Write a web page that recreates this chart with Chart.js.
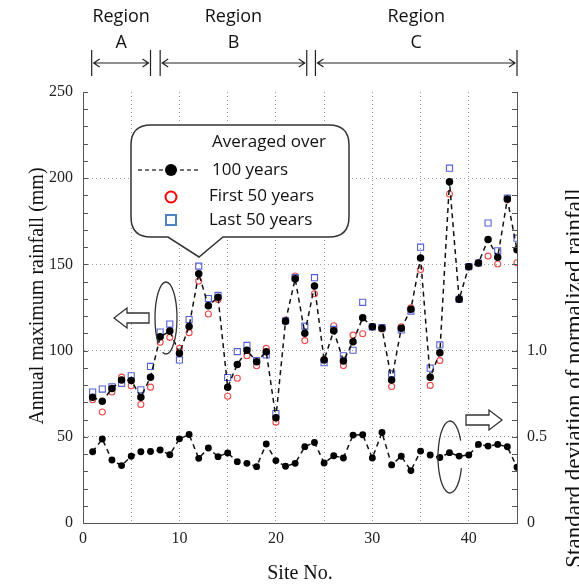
<!DOCTYPE html>
<html>
<head>
<meta charset="utf-8">
<script src="https://cdn.jsdelivr.net/npm/chart.js@4/dist/chart.umd.min.js"></script>
<style>
  html, body { margin: 0; padding: 0; background: #fff; }
  #chart { display: block; }
</style>
</head>
<body>
<canvas id="chart" width="579" height="587"></canvas>
<script>
// site numbers
const sites = [1, 2, 3, 4, 5, 6, 7, 8, 9, 10, 11, 12, 13, 14, 15, 16, 17, 18, 19, 20, 21, 22, 23,
  24, 25, 26, 27, 28, 29, 30, 31, 32, 33, 34, 35, 36, 37, 38, 39, 40, 41, 42, 43, 44, 45];

// annual max rainfall (mm)
const avg100 = [73, 70.6, 78, 83, 82.7, 73, 84.6, 108, 111.3, 98.5,
  114, 144.6, 126, 131, 78.8, 92, 100.2, 93.5, 99.4, 61,
  117, 141.7, 110, 137.5, 94.6, 111.5, 94, 105.2, 119, 113.8,
  112.9, 83, 112.9, 124, 153.7, 84.6, 98.8, 198, 129.8, 148.7,
  150.8, 164.4, 154.2, 187.9, 158.5];
const first50 = [71.5, 64.4, 76, 84.6, 79.6, 68.7, 78.8, 104.8, 107.7, 101.3,
  110.4, 140.4, 121.2, 129.6, 73.5, 84, 97, 91.2, 101.3, 58.5,
  117.7, 143.3, 105.8, 133, 95, 114.4, 91.3, 109, 109.8, 113.8,
  112.5, 79.2, 113.8, 124.8, 147, 79.8, 94.2, 190.8, 130, 148.7,
  150.8, 154.8, 150.2, 187.5, 151];
const last50 = [76, 77.7, 79, 81, 85.4, 77.3, 90.8, 110.8, 115.4, 94.6,
  118, 149, 130.2, 132, 84.4, 99.4, 103, 94.2, 97.5, 63.5,
  117.3, 142.3, 114.2, 142.3, 93, 112.3, 97, 100.2, 128, 113.8,
  113.3, 86.5, 112, 122.9, 160, 89.8, 103.3, 205.8, 129.8, 148.7,
  150.8, 174, 157.9, 188.5, 165.2];

// standard deviation of normalized rainfall (right axis)
const stdDev = [0.413, 0.487, 0.365, 0.333, 0.387, 0.413, 0.415, 0.423, 0.396, 0.488,
  0.513, 0.375, 0.435, 0.385, 0.406, 0.356, 0.346, 0.327, 0.458, 0.362,
  0.329, 0.346, 0.443, 0.467, 0.348, 0.39, 0.377, 0.51, 0.512, 0.377,
  0.525, 0.337, 0.387, 0.304, 0.417, 0.394, 0.38, 0.408, 0.388, 0.394,
  0.456, 0.446, 0.456, 0.442, 0.323];

// regions: [label, from site, to site]
const regions = [['A', 0.9, 7], ['B', 8, 23.2], ['C', 24.1, 45]];

const pts = arr => arr.map((v, i) => ({ x: sites[i], y: v }));

const serif = "'Liberation Serif', 'Times New Roman', serif";
const sans = "'Open Sans', 'Noto Sans', sans-serif";

// inward tick marks + drawings that sit on the figure
const decor = {
  id: 'decor',
  beforeDatasetsDraw(chart) {
    const c = chart.ctx;
    // callout box with pointer
    const L = 131, R = 349, T = 125, B = 237, r = 20;
    c.save();
    c.beginPath();
    c.moveTo(L + r, T);
    c.lineTo(R - r, T);
    c.quadraticCurveTo(R, T, R, T + r);
    c.lineTo(R, B - r);
    c.quadraticCurveTo(R, B, R - r, B);
    c.lineTo(223, B);
    c.lineTo(199, 257);
    c.lineTo(168, B);
    c.lineTo(L + r, B);
    c.quadraticCurveTo(L, B, L, B - r);
    c.lineTo(L, T + r);
    c.quadraticCurveTo(L, T, L + r, T);
    c.closePath();
    c.fillStyle = '#fff';
    c.fill();
    c.lineWidth = 1.5;
    c.strokeStyle = '#333';
    c.stroke();

    // legend contents
    c.setLineDash([4, 3]);
    c.lineWidth = 1.5;
    c.strokeStyle = '#444';
    c.beginPath(); c.moveTo(138, 170); c.lineTo(200, 170); c.stroke();
    c.setLineDash([]);
    c.fillStyle = '#000';
    c.beginPath(); c.arc(171, 170, 6, 0, Math.PI * 2); c.fill();
    c.strokeStyle = '#f00';
    c.lineWidth = 2;
    c.beginPath(); c.arc(171, 197, 5.5, 0, Math.PI * 2); c.stroke();
    c.strokeStyle = '#4f81bd';
    c.strokeRect(166, 215, 10, 10);
    c.fillStyle = '#111';
    c.font = '17px ' + sans;
    c.textBaseline = 'middle';
    c.textAlign = 'left';
    c.fillText('Averaged over', 212, 142);
    c.fillText('100 years', 212, 170);
    c.fillText('First 50 years', 209, 196);
    c.fillText('Last 50 years', 209, 220);
    c.restore();
  },
  afterDraw(chart) {
    const c = chart.ctx;
    const { x, y, y2 } = chart.scales;
    const area = chart.chartArea;
    c.save();
    // inward ticks
    c.strokeStyle = '#555';
    c.lineWidth = 1;
    c.beginPath();
    y.ticks.forEach(t => {
      const py = Math.round(y.getPixelForValue(t.value)) + 0.5;
      c.moveTo(area.left, py); c.lineTo(area.left + 5, py);
    });
    y2.ticks.forEach(t => {
      const py = Math.round(y2.getPixelForValue(t.value)) + 0.5;
      c.moveTo(area.right, py); c.lineTo(area.right - 5, py);
    });
    c.stroke();

    // regions on top
    c.fillStyle = '#111';
    c.strokeStyle = '#222';
    c.textAlign = 'center';
    c.textBaseline = 'middle';
    c.font = '18px ' + sans;
    regions.forEach(([lab, a, b]) => {
      const xa = x.getPixelForValue(a), xb = x.getPixelForValue(b);
      const xm = (xa + xb) / 2;
      c.fillText('Region', xm, 17);
      c.fillText(lab, xm, 43);
      c.lineWidth = 1.2;
      c.beginPath();
      c.moveTo(xa, 50); c.lineTo(xa, 76);
      c.moveTo(xb, 50); c.lineTo(xb, 76);
      c.moveTo(xa + 2, 63); c.lineTo(xb - 2, 63);
      c.moveTo(xa + 8, 59); c.lineTo(xa + 2, 63); c.lineTo(xa + 8, 67);
      c.moveTo(xb - 8, 59); c.lineTo(xb - 2, 63); c.lineTo(xb - 8, 67);
      c.stroke();
    });

    // ellipses
    c.lineWidth = 1.3;
    c.strokeStyle = '#333';
    c.beginPath();
    c.ellipse(166, 318, 11, 36, 0, -Math.PI * 0.5, Math.PI * 0.6);
    c.stroke();
    c.beginPath();
    c.ellipse(166, 318, 11, 36, 0, Math.PI * 0.75, Math.PI * 1.5);
    c.stroke();
    c.beginPath();
    c.ellipse(450, 457, 12, 36, 0, Math.PI * 0.1, Math.PI * 1.85);
    c.stroke();

    // hollow arrows
    c.fillStyle = '#fff';
    c.lineWidth = 1.3;
    c.beginPath();
    c.moveTo(114, 318); c.lineTo(127, 308); c.lineTo(127, 313); c.lineTo(149, 313);
    c.lineTo(149, 323); c.lineTo(127, 323); c.lineTo(127, 328); c.closePath();
    c.fill(); c.stroke();
    c.beginPath();
    c.moveTo(502, 420); c.lineTo(489, 410); c.lineTo(489, 415); c.lineTo(466, 415);
    c.lineTo(466, 425); c.lineTo(489, 425); c.lineTo(489, 430); c.closePath();
    c.fill(); c.stroke();

    // axis titles
    c.fillStyle = '#111';
    c.font = '20px ' + serif;
    c.textAlign = 'center';
    c.textBaseline = 'middle';
    c.fillText('Site No.', (area.left + area.right) / 2, 574);
    c.save();
    c.translate(38, 296);
    c.rotate(-Math.PI / 2);
    c.fillText('Annual maximum rainfall (mm)', 0, 0);
    c.restore();
    c.save();
    c.font = '23px ' + serif;
    c.translate(581, 378);
    c.rotate(-Math.PI / 2);
    c.textBaseline = 'alphabetic';
    c.fillText('Standard deviation of normalized rainfall', 0, 0);
    c.restore();
    c.restore();
  }
};

const chartEl = document.getElementById('chart');

new Chart(chartEl, {
  type: 'scatter',
  data: {
    datasets: [
      {
        label: 'Averaged over 100 years',
        data: pts(avg100),
        yAxisID: 'y',
        showLine: true,
        borderColor: '#111',
        borderWidth: 1.5,
        borderDash: [5, 4],
        pointBackgroundColor: '#000',
        pointBorderColor: '#000',
        pointRadius: 3,
        order: 1
      },
      {
        label: 'Last 50 years',
        data: pts(last50),
        yAxisID: 'y',
        showLine: false,
        pointStyle: 'rect',
        pointRadius: 4.3,
        pointBorderWidth: 1.1,
        pointBorderColor: '#5560d8',
        pointBackgroundColor: 'rgba(0,0,0,0)',
        order: 2
      },
      {
        label: 'First 50 years',
        data: pts(first50),
        yAxisID: 'y',
        showLine: false,
        pointRadius: 3,
        pointBorderWidth: 1.1,
        pointBorderColor: '#f04848',
        pointBackgroundColor: 'rgba(0,0,0,0)',
        order: 3
      },
      {
        label: 'Standard deviation',
        data: pts(stdDev),
        yAxisID: 'y2',
        showLine: true,
        borderColor: '#111',
        borderWidth: 1.5,
        borderDash: [5, 4],
        pointBackgroundColor: '#000',
        pointBorderColor: '#000',
        pointRadius: 2.7,
        order: 4
      }
    ]
  },
  options: {
    responsive: false,
    animation: false,
    layout: { padding: { top: 92, left: 0, right: 0, bottom: 0 } },
    plugins: {
      legend: { display: false },
      tooltip: { enabled: false }
    },
    scales: {
      x: {
        type: 'linear',
        min: 0,
        max: 45,
        ticks: {
          stepSize: 5,
          autoSkip: false,
          maxRotation: 0,
          padding: 6,
          color: '#222',
          font: { family: serif, size: 16 },
          callback: v => (v % 10 === 0 ? v : '')
        },
        grid: {
          drawTicks: false,
          lineWidth: 1,
          color: c => (c.tick && c.tick.value > 0 && c.tick.value < 45 ? '#999' : 'rgba(0,0,0,0)')
        },
        border: { color: '#555', width: 1, dash: [1, 3] },
        afterFit: s => { s.height = 64; }
      },
      y: {
        position: 'left',
        min: 0,
        max: 250,
        ticks: {
          stepSize: 10,
          autoSkip: false,
          padding: 10,
          color: '#222',
          font: { family: serif, size: 16 },
          callback: v => (v % 50 === 0 ? v : '')
        },
        grid: {
          drawTicks: false,
          lineWidth: 1,
          color: c => (c.tick && c.tick.value % 50 === 0 && c.tick.value > 0 && c.tick.value < 250 ? '#999' : 'rgba(0,0,0,0)')
        },
        border: { color: '#555', width: 1, dash: [1, 3] },
        afterFit: s => { s.width = 83; }
      },
      y2: {
        position: 'right',
        min: 0,
        max: 2.5,
        ticks: {
          stepSize: 0.1,
          autoSkip: false,
          padding: 10,
          color: '#222',
          font: { family: serif, size: 16 },
          callback: v => {
            const k = Math.round(v * 10);
            if (k === 0) return '0';
            if (k === 5) return '0.5';
            if (k === 10) return '1.0';
            return '';
          }
        },
        grid: { display: false, drawTicks: false },
        border: { color: '#555', width: 1 },
        afterFit: s => { s.width = 62; }
      }
    }
  },
  plugins: [decor]
});
</script>
</body>
</html>
